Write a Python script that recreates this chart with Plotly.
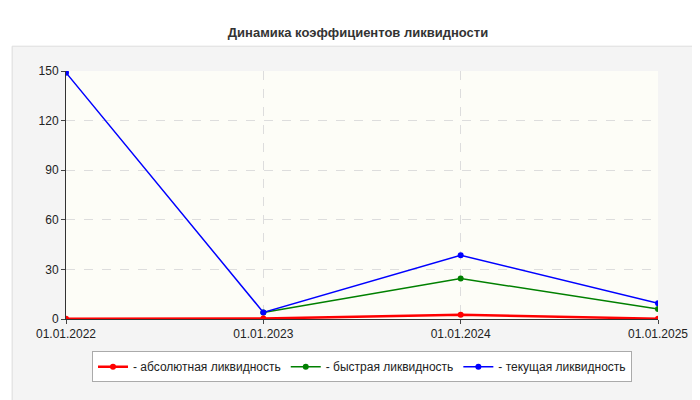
import plotly.graph_objects as go

dates = ["01.01.2022", "01.01.2023", "01.01.2024", "01.01.2025"]
absolute = [0.2, 0.3, 2.5, 0.2]
quick = [None, 4.0, 24.5, 6.0]
current = [149.0, 4.0, 38.5, 9.5]
names = ["- абсолютная ликвидность", "- быстрая ликвидность", "- текущая ликвидность"]
colors = ["#ff0000", "#008000", "#0000ff"]
yticks = [0, 30, 60, 90, 120, 150]

fig = go.Figure()
series = [absolute, quick, current]
for i in [1, 2, 0]:
    fig.add_trace(go.Scatter(x=list(range(len(dates))), y=series[i], name=names[i], mode="lines+markers",
                             legendrank=i + 1,
                             line=dict(color=colors[i], width=2.5 if i == 0 else 1.5),
                             marker=dict(color=colors[i], size=6)))

fig.update_layout(
    width=700, height=400, paper_bgcolor="white", plot_bgcolor="rgba(0,0,0,0)",
    margin=dict(l=58, r=50, t=63, b=89, autoexpand=False),
    title=dict(text="<b>Динамика коэффициентов ликвидности</b>", x=0.5, y=0.95, xanchor="center",
               font=dict(family="Liberation Sans, Arial", size=13, color="#333")),
    font=dict(family="Liberation Sans, Arial", size=12, color="#222"),
    showlegend=True,
    legend=dict(orientation="h", x=0.5, xanchor="center", y=-0.13, yanchor="top",
                bgcolor="white", bordercolor="#aaa", borderwidth=1,
                traceorder="normal", itemwidth=30),
    shapes=[dict(type="rect", xref="paper", yref="paper", x0=-0.091, x1=1.08, y0=-0.347, y1=1.1,
                 fillcolor="#f4f4f4", line=dict(color="#ddd", width=1), layer="below"),
            dict(type="rect", xref="paper", yref="paper", x0=0, x1=1, y0=0, y1=1,
                 fillcolor="#fdfdf7", line=dict(width=0), layer="below")],
)
fig.update_xaxes(range=[0, 3], tickvals=list(range(len(dates))), ticktext=dates, automargin=False,
                 showgrid=True, gridcolor="#ddd", griddash="dash", zeroline=False,
                 showline=True, linecolor="#333", ticks="outside", ticklen=4)
fig.update_yaxes(range=[0, 150], tickvals=yticks, showgrid=True, gridcolor="#ddd", griddash="dash",
                 automargin=False, zeroline=False, showline=True, linecolor="#333", ticks="outside", ticklen=4)
fig.write_html("out.html")
